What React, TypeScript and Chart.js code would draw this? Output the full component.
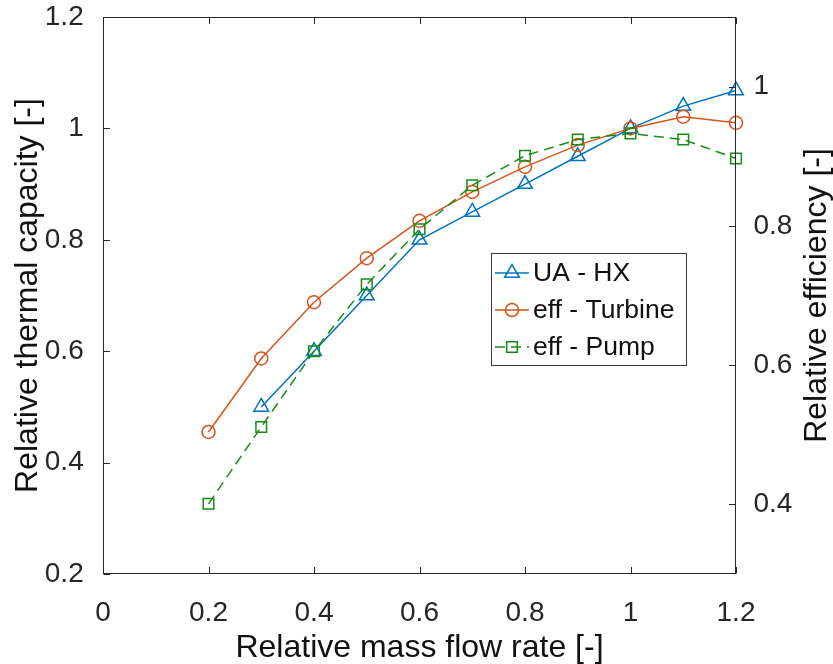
import React, { useEffect, useRef } from 'react';
import { Chart, registerables } from 'chart.js';

Chart.register(...registerables);

// ---- data ----
const massFlow = [0.2, 0.3, 0.4, 0.5, 0.6, 0.7, 0.8, 0.9, 1.0, 1.1, 1.2];
const uaHX = [null, 0.5, 0.6, 0.7, 0.8, 0.85, 0.9, 0.95, 1.0, 1.04, 1.068];
const effTurbine = [0.455, 0.587, 0.688, 0.767, 0.834, 0.886, 0.931, 0.97, 1.0, 1.021, 1.01];
const effPump = [0.326, 0.464, 0.6, 0.72, 0.819, 0.898, 0.951, 0.98, 0.991, 0.98, 0.946];

const xTicks = [0, 0.2, 0.4, 0.6, 0.8, 1, 1.2];
const leftTicks = [0.2, 0.4, 0.6, 0.8, 1, 1.2];
const rightTicks = [0.4, 0.6, 0.8, 1];

const seriesLabels = ['UA - HX', 'eff - Turbine', 'eff - Pump'];
const xTitle = 'Relative mass flow rate [-]';
const leftTitle = 'Relative thermal capacity [-]';
const rightTitle = 'Relative efficiency [-]';

const FONT = "'Liberation Sans', Arial, Helvetica, sans-serif";
const BLUE = '#0072BD';
const ORANGE = '#D95319';
const GREEN = '#178C17';
const AXIS = '#262626';

const fmt = (v: number) => String(Math.round(v * 10) / 10);

const toPoints = (ys: (number | null)[]) =>
  massFlow
    .map((x, i) => ({ x, y: ys[i] }))
    .filter((p) => p.y !== null) as { x: number; y: number }[];

function drawMarker(ctx: CanvasRenderingContext2D, style: string, x: number, y: number, r: number) {
  ctx.beginPath();
  if (style === 'circle') {
    ctx.arc(x, y, r, 0, Math.PI * 2);
  } else if (style === 'triangle') {
    for (let k = 0; k < 3; k++) {
      const a = (k * 2 * Math.PI) / 3;
      const px = x + Math.sin(a) * r;
      const py = y - Math.cos(a) * r;
      if (k === 0) ctx.moveTo(px, py);
      else ctx.lineTo(px, py);
    }
    ctx.closePath();
  } else {
    const s = Math.SQRT1_2 * r;
    ctx.rect(x - s, y - s, 2 * s, 2 * s);
  }
  ctx.stroke();
}

const decorPlugin = {
  id: 'decor',
  afterDraw(chart: any) {
    const { ctx, chartArea, scales } = chart;
    const { left, right, top, bottom } = chartArea;
    ctx.save();
    // box
    ctx.strokeStyle = AXIS;
    ctx.lineWidth = 1;
    ctx.setLineDash([]);
    const L = Math.round(left) + 0.5;
    const R = Math.round(right) - 0.5;
    const T = Math.round(top) + 0.5;
    const B = Math.round(bottom) - 0.5;
    ctx.strokeRect(L, T, R - L, B - T);
    const tl = 6.5;
    ctx.beginPath();
    xTicks.forEach((v) => {
      const px = Math.round(scales.x.getPixelForValue(v)) + 0.5;
      ctx.moveTo(px, B);
      ctx.lineTo(px, B - tl);
      ctx.moveTo(px, T);
      ctx.lineTo(px, T + tl);
    });
    leftTicks.forEach((v) => {
      const py = Math.round(scales.y.getPixelForValue(v)) + 0.5;
      ctx.moveTo(L, py);
      ctx.lineTo(L + tl, py);
    });
    rightTicks.forEach((v) => {
      const py = Math.round(scales.y1.getPixelForValue(v)) + 0.5;
      ctx.moveTo(R, py);
      ctx.lineTo(R - tl, py);
    });
    ctx.stroke();

    // titles
    ctx.fillStyle = '#111';
    ctx.font = `32px ${FONT}`;
    ctx.textAlign = 'center';
    ctx.textBaseline = 'alphabetic';
    const cy = (top + bottom) / 2;
    ctx.fillText(xTitle, (left + right) / 2, 656.5);
    ctx.save();
    ctx.translate(37, cy);
    ctx.rotate(-Math.PI / 2);
    ctx.fillText(leftTitle, 0, 0);
    ctx.restore();
    ctx.save();
    ctx.translate(826, cy);
    ctx.rotate(-Math.PI / 2);
    ctx.fillText(rightTitle, 0, 0);
    ctx.restore();

    // legend
    const bx = 491, by = 253, bw = 195, bh = 112;
    ctx.fillStyle = '#ffffff';
    ctx.fillRect(bx, by, bw, bh);
    ctx.strokeStyle = '#3a3a3a';
    ctx.lineWidth = 1;
    ctx.strokeRect(bx + 0.5, by + 0.5, bw, bh);
    const rows = [273, 310, 347];
    chart.data.datasets.forEach((ds: any, i: number) => {
      const yy = rows[i];
      ctx.strokeStyle = ds.borderColor;
      ctx.lineWidth = 1.5;
      ctx.setLineDash(ds.borderDash || []);
      ctx.beginPath();
      ctx.moveTo(495, yy);
      ctx.lineTo(529, yy);
      ctx.stroke();
      ctx.setLineDash([]);
      drawMarker(ctx, ds.pointStyle, 512, yy, ds.pointRadius);
      ctx.fillStyle = '#111';
      ctx.font = `26.5px ${FONT}`;
      ctx.textAlign = 'left';
      ctx.textBaseline = 'middle';
      ctx.fillText(ds.label, 533, yy + 1);
    });
    ctx.restore();
  },
};

export default function App() {
  const ref = useRef<HTMLCanvasElement | null>(null);
  useEffect(() => {
    if (!ref.current) return;
    Chart.defaults.font.family = FONT;
    const chart = new Chart(ref.current, {
      type: 'line',
      data: {
        datasets: [
          {
            label: seriesLabels[0],
            data: toPoints(uaHX),
            yAxisID: 'y',
            borderColor: BLUE,
            borderWidth: 1.5,
            pointStyle: 'triangle',
            pointRadius: 8.5,
            pointBorderWidth: 1.5,
            pointBorderColor: BLUE,
            pointBackgroundColor: 'rgba(0,0,0,0)',
            fill: false,
            tension: 0,
            clip: false as any,
            order: 3,
          },
          {
            label: seriesLabels[1],
            data: toPoints(effTurbine),
            yAxisID: 'y',
            borderColor: ORANGE,
            borderWidth: 1.5,
            pointStyle: 'circle',
            pointRadius: 6.5,
            pointBorderWidth: 1.5,
            pointBorderColor: ORANGE,
            pointBackgroundColor: 'rgba(0,0,0,0)',
            fill: false,
            tension: 0,
            clip: false as any,
            order: 2,
          },
          {
            label: seriesLabels[2],
            data: toPoints(effPump),
            yAxisID: 'y',
            borderColor: GREEN,
            borderWidth: 1.5,
            borderDash: [10, 6],
            pointStyle: 'rect',
            pointRadius: 7.5,
            pointBorderWidth: 1.5,
            pointBorderColor: GREEN,
            pointBackgroundColor: 'rgba(0,0,0,0)',
            fill: false,
            tension: 0,
            clip: false as any,
            order: 1,
          },
        ],
      },
      options: {
        animation: false,
        responsive: false,
        devicePixelRatio: 1,
        layout: { padding: { top: 17, left: 0, right: 0, bottom: 0 } },
        plugins: { legend: { display: false }, tooltip: { enabled: false } },
        events: [],
        scales: {
          x: {
            type: 'linear',
            position: 'bottom',
            min: 0,
            max: 1.2,
            afterBuildTicks: (s: any) => {
              s.ticks = xTicks.map((v) => ({ value: v }));
            },
            afterFit: (s: any) => {
              s.height = 90;
              s.paddingLeft = 0;
              s.paddingRight = 0;
            },
            grid: { display: false },
            border: { display: false },
            ticks: {
              font: { size: 28, family: FONT },
              color: AXIS,
              padding: 14.5,
              maxRotation: 0,
              autoSkip: false,
              callback: (v: any) => fmt(Number(v)),
            },
          },
          y: {
            type: 'linear',
            position: 'left',
            min: 0.2,
            max: 1.2,
            afterBuildTicks: (s: any) => {
              s.ticks = leftTicks.map((v) => ({ value: v }));
            },
            afterFit: (s: any) => {
              s.width = 103;
              s.paddingTop = 0;
              s.paddingBottom = 0;
            },
            grid: { display: false },
            border: { display: false },
            ticks: {
              font: { size: 28, family: FONT },
              color: AXIS,
              padding: 11.3,
              autoSkip: false,
              callback: (v: any) => fmt(Number(v)),
            },
          },
          y1: {
            type: 'linear',
            position: 'right',
            display: true,
            min: 0.3,
            max: 1.1,
            afterBuildTicks: (s: any) => {
              s.ticks = rightTicks.map((v) => ({ value: v }));
            },
            afterFit: (s: any) => {
              s.width = 97;
              s.paddingTop = 0;
              s.paddingBottom = 0;
            },
            grid: { display: false },
            border: { display: false },
            ticks: {
              font: { size: 28, family: FONT },
              color: AXIS,
              padding: 9.5,
              autoSkip: false,
              callback: (v: any) => fmt(Number(v)),
            },
          },
        },
      } as any,
      plugins: [decorPlugin],
    });
    return () => chart.destroy();
  }, []);

  return (
    <div style={{ position: 'fixed', left: 0, top: 0, width: 833, height: 664, background: '#fff' }}>
      <canvas ref={ref} width={833} height={664} style={{ display: 'block', width: 833, height: 664 }} />
    </div>
  );
}
